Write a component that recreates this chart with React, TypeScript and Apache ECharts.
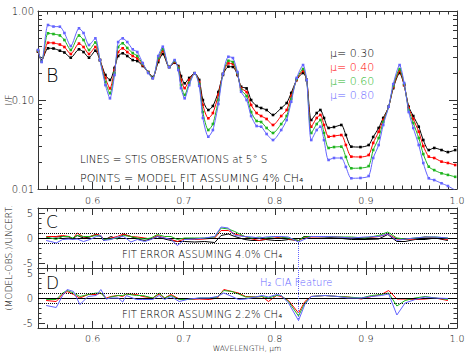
import React, { useEffect, useRef } from "react";
import * as echarts from "echarts";

// ---------- DATA ----------
const wavelengths = [0.540, 0.544, 0.551, 0.557, 0.564, 0.569, 0.576, 0.585, 0.590, 0.596,
  0.603, 0.608, 0.614, 0.619, 0.624, 0.628, 0.633, 0.638, 0.644, 0.649,
  0.655, 0.661, 0.666, 0.672, 0.677, 0.684, 0.690, 0.694, 0.697, 0.701,
  0.706, 0.712, 0.717, 0.721, 0.727, 0.732, 0.738, 0.743, 0.749, 0.754,
  0.759, 0.763, 0.769, 0.774, 0.780, 0.785, 0.791, 0.798, 0.807, 0.813,
  0.818, 0.824, 0.831, 0.835, 0.840, 0.846, 0.850, 0.854, 0.859, 0.865,
  0.873, 0.878, 0.884, 0.894, 0.903, 0.908, 0.914, 0.919, 0.925, 0.930,
  0.937, 0.942, 0.947, 0.952, 0.958, 0.963, 0.969, 0.975, 0.983, 0.990,
  0.998];

const ifMu030 = [0.349, 0.281, 0.381, 0.379, 0.358, 0.342, 0.299, 0.371, 0.346, 0.299,
  0.358, 0.281, 0.191, 0.168, 0.229, 0.312, 0.335, 0.312, 0.281, 0.274,
  0.241, 0.206, 0.181, 0.267, 0.329, 0.235, 0.262, 0.241, 0.186, 0.154,
  0.177, 0.200, 0.168, 0.100, 0.0772, 0.0856, 0.123, 0.191, 0.237, 0.235,
  0.191, 0.141, 0.135, 0.100, 0.0856, 0.0813, 0.0772, 0.0679, 0.0813, 0.0925,
  0.120, 0.168, 0.201, 0.168, 0.0596, 0.0714, 0.0772, 0.0628, 0.0485, 0.0497,
  0.0524, 0.0404, 0.0299, 0.0296, 0.0312, 0.0384, 0.0485, 0.0628, 0.0841, 0.136,
  0.201, 0.147, 0.0841, 0.0661, 0.0501, 0.0355, 0.0274, 0.0289, 0.0274, 0.0260,
  0.0274];

const ifMu040 = [0.355, 0.274, 0.440, 0.437, 0.420, 0.394, 0.329, 0.431, 0.394, 0.329,
  0.394, 0.281, 0.177, 0.135, 0.217, 0.346, 0.381, 0.346, 0.312, 0.293,
  0.247, 0.206, 0.177, 0.281, 0.355, 0.235, 0.267, 0.235, 0.168, 0.136,
  0.168, 0.200, 0.159, 0.0879, 0.0623, 0.0714, 0.114, 0.196, 0.258, 0.254,
  0.196, 0.136, 0.123, 0.0879, 0.0714, 0.0661, 0.0612, 0.0524, 0.0661, 0.0772,
  0.111, 0.168, 0.212, 0.168, 0.0501, 0.0628, 0.0679, 0.0524, 0.0387, 0.0394,
  0.0404, 0.0312, 0.0231, 0.0229, 0.0241, 0.0329, 0.0440, 0.0596, 0.0841, 0.140,
  0.212, 0.147, 0.0813, 0.0612, 0.0440, 0.0304, 0.0231, 0.0223, 0.0203, 0.0196,
  0.0186];

const ifMu060 = [0.360, 0.271, 0.562, 0.551, 0.531, 0.472, 0.365, 0.531, 0.472, 0.365,
  0.443, 0.281, 0.159, 0.119, 0.201, 0.394, 0.434, 0.384, 0.337, 0.312,
  0.254, 0.204, 0.177, 0.296, 0.374, 0.235, 0.274, 0.229, 0.147, 0.114,
  0.155, 0.200, 0.151, 0.0733, 0.0460, 0.0537, 0.100, 0.196, 0.276, 0.267,
  0.201, 0.130, 0.111, 0.0733, 0.0581, 0.0566, 0.0485, 0.0426, 0.0537, 0.0661,
  0.1026, 0.172, 0.223, 0.168, 0.0426, 0.0537, 0.0596, 0.0426, 0.0289, 0.0296,
  0.0299, 0.0229, 0.0171, 0.0172, 0.0181, 0.0274, 0.0374, 0.0566, 0.0841, 0.144,
  0.223, 0.151, 0.0772, 0.0551, 0.0374, 0.0247, 0.0178, 0.0163, 0.0150, 0.0144,
  0.0137];

const ifMu080 = [0.365, 0.267, 0.696, 0.669, 0.666, 0.566, 0.404, 0.639, 0.566, 0.415,
  0.493, 0.281, 0.147, 0.1045, 0.191, 0.448, 0.493, 0.448, 0.371, 0.346,
  0.260, 0.201, 0.175, 0.312, 0.397, 0.233, 0.281, 0.217, 0.136, 0.1045,
  0.147, 0.200, 0.144, 0.0628, 0.0387, 0.0460, 0.0902, 0.196, 0.306, 0.296,
  0.206, 0.124, 0.100, 0.0661, 0.0510, 0.0501, 0.0415, 0.0355, 0.0460, 0.0596,
  0.0957, 0.177, 0.247, 0.168, 0.0355, 0.0460, 0.0501, 0.0355, 0.0212, 0.0223,
  0.0223, 0.0177, 0.0132, 0.0133, 0.0140, 0.0223, 0.0312, 0.0524, 0.0841, 0.151,
  0.247, 0.155, 0.0733, 0.0485, 0.0312, 0.0196, 0.0132, 0.0126, 0.0116, 0.0108,
  0.0097];

const residWaveC = [0.549, 0.554, 0.560, 0.567, 0.574, 0.578, 0.583, 0.590, 0.597, 0.604,
  0.609, 0.612, 0.620, 0.627, 0.634, 0.642, 0.649, 0.657, 0.664, 0.671,
  0.679, 0.686, 0.693, 0.701, 0.712, 0.723, 0.734, 0.741, 0.749, 0.756,
  0.767, 0.775, 0.783, 0.790, 0.800, 0.807, 0.815, 0.826, 0.832, 0.840,
  0.855, 0.869, 0.884, 0.899, 0.914, 0.924, 0.934, 0.943, 0.954, 0.965,
  0.976, 0.990];
const residC_mu030 = [0, 0.3, 0.2, 0.3, 0.2, -0.2, 0.5, 0, 0.2, 0.8,
  0.3, -0.5, 0.3, -0.2, 0.7, 0.3, -0.2, -0.5, -0.2, 0.3,
  -0.2, -0.5, -0.7, -0.7, -0.8, -0.7, -0.9, 0.5, 0.8, 0.3,
  -0.3, -0.5, -0.5, -0.3, -0.5, -0.5, -0.3, -0.5, 0.3, 0.3,
  0.2, 0, -0.3, -0.3, -0.2, 0.7, -0.7, -0.7, -0.3, -0.3,
  0, -0.5];
const residC_mu040 = [0.3, 0.3, 0.3, 0.5, 0.3, -0.2, 1.0, 0.2, 0.3, 0.7,
  0.5, -0.2, 0, 0.3, 0.8, 0.3, 0.2, 0, -0.2, 0.5,
  0, -0.3, -0.7, -0.2, -0.3, -0.2, 0, 1.5, 1.5, 0.8,
  0.3, -0.2, -0.5, -0.2, 0, 0.2, -0.2, -0.5, 0, 0.2,
  0.3, 0.2, 0, 0, 0.3, 0.8, -0.2, -0.3, -0.2, 0.2,
  0, -0.3];
const residC_mu060 = [0.2, 0, -0.3, 0.3, 0.3, 0, 0.5, 0.3, 0.3, 0.5,
  0.3, -0.3, -0.2, 0, 0.5, 0.3, 0, -0.2, 0, 0.7,
  0.3, 0.3, -0.3, 0, 0, 0, 0.2, 2.0, 1.8, 1.3,
  0.3, 0, 0.2, 0, 0.3, 0.2, 0, -0.5, 0.2, 0.3,
  0.3, 0.2, 0.2, 0, 0.5, 1.2, 0, -0.2, 0, 0.2,
  0.2, 0];
const residC_mu080 = [-0.5, -0.7, -1.0, -0.3, -0.2, -0.3, -0.2, -0.7, -0.3, 0.3,
  0.5, -0.5, -0.3, 0.2, 0.3, -0.8, -0.3, -0.7, -0.3, 0.3,
  0, -0.3, -1.5, -0.3, -0.2, 0, 0.3, 2.2, 2.0, 0.5,
  0.3, 0.2, 0, 0.2, 0.3, 0.3, 0.2, -0.8, -0.3, 0.3,
  0.3, 0.2, 0, 0.2, 0.3, 0.8, -0.5, -0.2, 0, 0.2,
  0.2, 0];

const residWaveD = [0.549, 0.560, 0.567, 0.572, 0.579, 0.586, 0.595, 0.604, 0.609, 0.615,
  0.620, 0.628, 0.633, 0.637, 0.648, 0.655, 0.666, 0.673, 0.679, 0.686,
  0.695, 0.706, 0.717, 0.728, 0.737, 0.744, 0.753, 0.760, 0.768, 0.779,
  0.786, 0.793, 0.802, 0.807, 0.815, 0.826, 0.833, 0.840, 0.855, 0.869,
  0.880, 0.895, 0.906, 0.917, 0.925, 0.934, 0.943, 0.954, 0.965, 0.976,
  0.990];
const residD_mu040 = [-0.5, -0.7, 0.7, 1.3, 0.7, 0, 0.7, 0.7, 1.0, 0,
  0.3, 0.5, 0.3, 0.8, 0.7, 0.3, 0, 0.8, 0, 0.7,
  -0.2, -0.3, -0.2, -0.3, 0, 1.7, 1.3, 1.0, 0.3, 0.2,
  0.3, -0.7, 0.5, 0.3, -0.5, -3.0, -0.7, 0.3, 0.5, 0.3,
  0.2, -0.2, 0.3, 0.7, 1.5, -0.2, -0.2, -0.3, -0.2, 0,
  -0.5];
const residD_mu060 = [-0.3, -0.3, 1.0, 1.5, 1.0, 0.3, 0.7, 1.0, 1.0, -0.2,
  0.2, 0.5, 0.5, 0.8, 0.5, 0.5, 0, 1.0, 0, 0.5,
  -0.3, -0.3, 0, 0, 0.2, 1.5, 1.3, 0.8, 0.2, 0.2,
  0.3, 0, 0.5, 0.5, -0.7, -3.6, -1.0, 0.3, 0.5, 0.3,
  0.2, 0, 0.5, 0.7, 1.0, -1.6, -0.5, 0, 0.3, 0,
  -0.3];
const residD_mu080 = [-1.5, -1.9, 0.5, 1.7, 1.3, -1.3, 0.3, 0.5, 1.7, -0.2,
  0, 0, -0.8, 0.5, -0.3, -0.3, -0.3, 0.5, -0.3, 0.3,
  -0.7, -0.2, 0, 0, 0.3, 1.0, 0.3, -0.3, -0.2, 0.2,
  0.5, 0.2, 0.7, 0.5, -1.0, -4.5, -1.3, 0.3, 0.5, 0.3,
  0, 0, 0.3, 0.5, 0.8, -3.4, -1.0, -0.3, 0.2, 0,
  -0.1];

const muLabels = ["0.30", "0.40", "0.60", "0.80"];
const xTickValues = [0.6, 0.7, 0.8, 0.9, 1.0];
const logMajorTicks = [0.01, 0.1, 1];
const logMinorTicks = [0.02, 0.03, 0.04, 0.05, 0.06, 0.07, 0.08, 0.09,
  0.2, 0.3, 0.4, 0.5, 0.6, 0.7, 0.8, 0.9];
const residMajorTicks = [-5, 0, 5];
const residBand = [-1, 1];
const ciaWavelength = 0.826;

// ---------- STYLE ----------
const COLORS = ["#000000", "#ff0000", "#1fb51f", "#6464ff"];
const AX = "#333333";
const TXT = "#000000";
const FONT = "DejaVu Sans";
const FW = 300;

function xAxesFor(grid: number, labels: boolean, margin: number) {
  const common: any = {
    gridIndex: grid, type: "value", min: 0.54, max: 1.0,
    splitLine: { show: false }, silent: true,
  };
  const lineOn = { show: true, onZero: false, lineStyle: { color: AX, width: 1 } };
  const lineOff = { show: false, onZero: false };
  const major = { show: true, inside: true, length: 7, customValues: xTickValues, lineStyle: { color: AX } };
  const minor = { show: true, inside: true, length: 3.5, lineStyle: { color: AX } };
  return [
    {
      ...common, position: "bottom", axisLine: lineOn, axisTick: major,
      axisLabel: {
        show: labels, customValues: xTickValues, formatter: (v: number) => v.toFixed(1),
        margin, fontSize: 9.5, color: TXT, fontFamily: FONT, fontWeight: FW,
        showMinLabel: true, showMaxLabel: true,
      },
    },
    { ...common, position: "bottom", interval: 0.01, axisLine: lineOff, axisTick: minor, axisLabel: { show: false } },
    { ...common, position: "top", axisLine: lineOn, axisTick: major, axisLabel: { show: false } },
    { ...common, position: "top", interval: 0.01, axisLine: lineOff, axisTick: minor, axisLabel: { show: false } },
  ];
}

function logYAxes() {
  const common: any = { gridIndex: 0, type: "log", logBase: 10, min: 0.01, max: 1, splitLine: { show: false }, silent: true };
  const lineOn = { show: true, onZero: false, lineStyle: { color: AX, width: 1 } };
  const lineOff = { show: false, onZero: false };
  const major = { show: true, inside: true, length: 8, customValues: logMajorTicks, lineStyle: { color: AX } };
  const minor = { show: true, inside: true, length: 4, customValues: logMinorTicks, lineStyle: { color: AX } };
  return [
    {
      ...common, position: "left", axisLine: lineOn, axisTick: major,
      axisLabel: {
        customValues: logMajorTicks, formatter: (v: number) => v.toFixed(2),
        margin: 4, fontSize: 10, color: TXT, fontFamily: FONT, fontWeight: FW,
        showMinLabel: true, showMaxLabel: true,
      },
    },
    { ...common, position: "left", axisLine: lineOff, axisTick: minor, axisLabel: { show: false } },
    { ...common, position: "right", axisLine: lineOn, axisTick: major, axisLabel: { show: false } },
    { ...common, position: "right", axisLine: lineOff, axisTick: minor, axisLabel: { show: false } },
  ];
}

function residYAxes(grid: number) {
  const common: any = { gridIndex: grid, type: "value", min: -6, max: 6, splitLine: { show: false }, silent: true };
  const lineOn = { show: true, onZero: false, lineStyle: { color: AX, width: 1 } };
  const lineOff = { show: false, onZero: false };
  const major = { show: true, inside: true, length: 7, customValues: residMajorTicks, lineStyle: { color: AX } };
  const minor = { show: true, inside: true, length: 3.5, lineStyle: { color: AX } };
  return [
    {
      ...common, position: "left", axisLine: lineOn, axisTick: major,
      axisLabel: {
        customValues: residMajorTicks, margin: 5, fontSize: 10, color: TXT, fontFamily: FONT, fontWeight: FW,
        showMinLabel: true, showMaxLabel: true,
      },
    },
    { ...common, position: "left", interval: 1, axisLine: lineOff, axisTick: minor, axisLabel: { show: false } },
    { ...common, position: "right", axisLine: lineOn, axisTick: major, axisLabel: { show: false } },
    { ...common, position: "right", interval: 1, axisLine: lineOff, axisTick: minor, axisLabel: { show: false } },
  ];
}

function refLines(ciaTop: number, ciaBottom: number) {
  const dotted = { type: "dotted", color: "#000", width: 1 };
  return {
    silent: true,
    symbol: ["none", "none"],
    label: { show: false },
    animation: false,
    data: [
      { yAxis: 0, lineStyle: { type: "solid", color: "#000", width: 1 } },
      { yAxis: residBand[0], lineStyle: dotted },
      { yAxis: residBand[1], lineStyle: dotted },
      [
        { coord: [ciaWavelength, ciaTop], lineStyle: { type: "dotted", color: COLORS[3], width: 1 } },
        { coord: [ciaWavelength, ciaBottom] },
      ],
    ],
  };
}

export default function App() {
  const ref = useRef<HTMLDivElement>(null);

  useEffect(() => {
    if (!ref.current) return;
    const chart = echarts.init(ref.current, undefined, { renderer: "svg" });

    const spectra = [ifMu030, ifMu040, ifMu060, ifMu080];
    const residC = [residC_mu030, residC_mu040, residC_mu060, residC_mu080];
    const residD = [residD_mu040, residD_mu060, residD_mu080];

    const series: any[] = [];
    spectra.forEach((vals, i) => {
      series.push({
        type: "line", name: "mu" + muLabels[i], xAxisIndex: 0, yAxisIndex: 0,
        data: wavelengths.map((w, k) => [w, vals[k]]),
        smooth: 0.25, symbol: "rect", symbolSize: 2.6, showSymbol: true,
        itemStyle: { color: COLORS[i] }, lineStyle: { color: COLORS[i], width: 1 },
        z: 3 + i,
      });
    });
    residC.forEach((vals, i) => {
      const s: any = {
        type: "line", xAxisIndex: 4, yAxisIndex: 4,
        data: residWaveC.map((w, k) => [w, vals[k]]),
        showSymbol: false, lineStyle: { color: COLORS[i], width: 1 }, itemStyle: { color: COLORS[i] },
        z: 3 + i,
      };
      if (i === 0) s.markLine = refLines(-0.4, -6);
      series.push(s);
    });
    residD.forEach((vals, i) => {
      const s: any = {
        type: "line", xAxisIndex: 8, yAxisIndex: 8,
        data: residWaveD.map((w, k) => [w, vals[k]]),
        showSymbol: false, lineStyle: { color: COLORS[i + 1], width: 1 }, itemStyle: { color: COLORS[i + 1] },
        z: 3 + i,
      };
      if (i === 0) s.markLine = refLines(6, -4.5);
      series.push(s);
    });

    const txt = (x: number, y: number, text: string, size: number, fill: string, extra: any = {}) => ({
      type: "text", x, y, silent: true, ...extra,
      style: {
        text, fontSize: size, fill, fontFamily: FONT, fontWeight: FW,
        verticalAlign: "middle", align: "left", ...(extra.style || {}),
      },
    });

    const graphic: any[] = [
      txt(46, 75, "B", 19, TXT),
      txt(46, 222, "C", 17, TXT),
      txt(46, 283, "D", 17, TXT),
      txt(80, 159, "LINES = STIS OBSERVATIONS at 5° S", 10.3, TXT),
      txt(80, 178, "POINTS = MODEL FIT ASSUMING 4% CH₄", 11, TXT),
      txt(122, 254, "FIT ERROR ASSUMING 4.0% CH₄", 10, TXT),
      txt(122, 314, "FIT ERROR ASSUMING 2.2% CH₄", 10, TXT),
      txt(260, 282, "H₂ CIA Feature", 10, COLORS[3]),
      txt(247, 348.5, "WAVELENGTH, μm", 7.5, TXT, { style: { align: "center" } }),
      txt(9, 100, "I/F", 9, TXT, { rotation: Math.PI / 2, style: { align: "center" } }),
      txt(9, 258, "(MODEL-OBS.)/UNCERT.", 9, TXT, { rotation: Math.PI / 2, style: { align: "center" } }),
    ];
    muLabels.forEach((m, i) => {
      graphic.push(txt(330, 53 + i * 14.3, "μ= " + m, 11, COLORS[i]));
    });

    chart.setOption({
      animation: false,
      backgroundColor: "#ffffff",
      grid: [
        { left: 38, top: 11, width: 419, height: 178 },
        { left: 38, top: 208, width: 419, height: 60 },
        { left: 38, top: 268, width: 419, height: 60 },
      ],
      xAxis: [...xAxesFor(0, true, 6), ...xAxesFor(1, false, 6), ...xAxesFor(2, true, 5)],
      yAxis: [...logYAxes(), ...residYAxes(1), ...residYAxes(2)],
      series,
      graphic,
    });

    return () => chart.dispose();
  }, []);

  return (
    <div
      ref={ref}
      style={{ position: "absolute", left: 0, top: 0, width: 471, height: 353, background: "#fff" }}
    />
  );
}
